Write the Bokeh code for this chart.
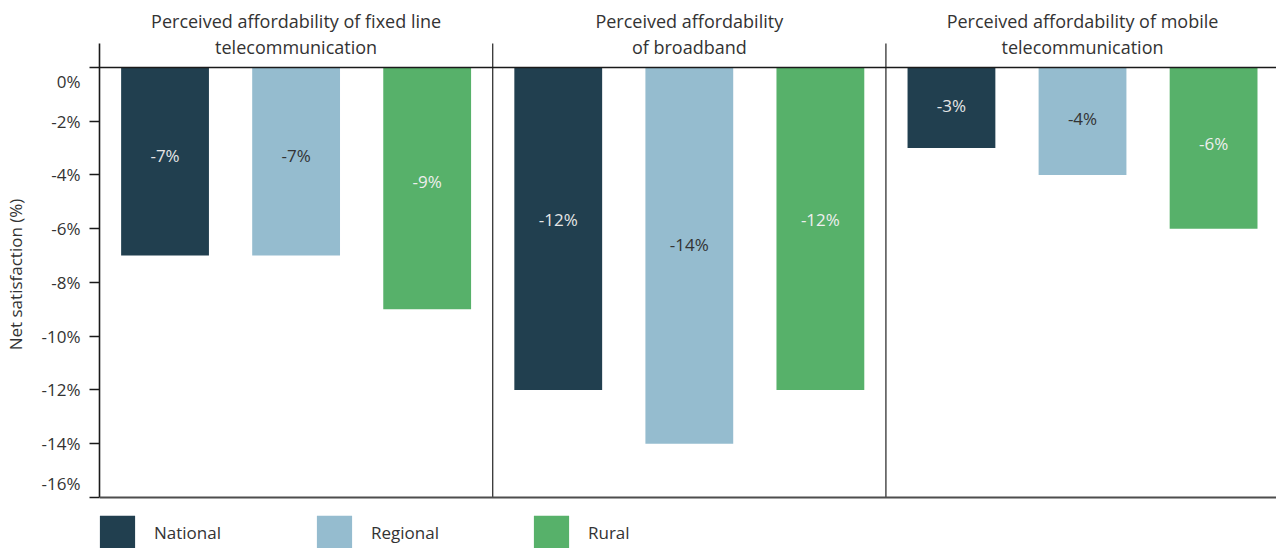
from bokeh.plotting import figure
from bokeh.models import ColumnDataSource, Range1d, FixedTicker, Span, Legend, LegendItem
from bokeh.core.properties import value
from bokeh.embed import file_html
from bokeh.resources import INLINE

# ---- data ----
panels = ["Perceived affordability of fixed line\ntelecommunication",
          "Perceived affordability\nof broadband",
          "Perceived affordability of mobile\ntelecommunication"]
groups = ["National", "Regional", "Rural"]
national = [-7, -12, -3]
regional = [-7, -14, -4]
rural = [-9, -12, -6]
y_ticks = [0, -2, -4, -6, -8, -10, -12, -14, -16]
y_title = "Net satisfaction (%)"

# ---- style ----
FONT = "Open Sans"
colors = ["#213f4f", "#95bccf", "#57b16a"]
label_colors = ["#e6e6e6", "#333333", "#eeeeee"]
TXT = "#333333"
n_groups = len(groups)
panel_w = n_groups
y_min = min(y_ticks)
y_top = 0.893
label_pos = 0.47

p = figure(width=1276, height=548, output_backend="svg", toolbar_location=None,
           x_range=Range1d(0, 8.98), y_range=Range1d(-17.898, 2.493),
           min_border_left=99, min_border_right=0, min_border_top=0, min_border_bottom=0)
p.outline_line_color = None
p.grid.visible = False
p.xaxis.visible = False
p.background_fill_color = "white"

items = []
for j, (g, vals) in enumerate(zip(groups, [national, regional, rural])):
    xs = [i * panel_w + j + 0.5 for i in range(len(vals))]
    src = ColumnDataSource(dict(x=xs, top=[0] * len(vals), bottom=vals,
                                lab=[f"{v}%" for v in vals], ly=[v * label_pos for v in vals]))
    r = p.vbar(x="x", top="top", bottom="bottom", width=0.67, source=src,
               fill_color=colors[j], line_color=None)
    p.text(x="x", y="ly", text="lab", source=src, text_align="center",
           text_baseline="middle", text_color=label_colors[j],
           text_font=value(FONT), text_font_size="17px")
    items.append(LegendItem(label=g, renderers=[r]))

# panel titles
tsrc = ColumnDataSource(dict(x=[i * panel_w + panel_w / 2 for i in range(len(panels))],
                             y=[2.16] * len(panels), t=panels))
p.text(x="x", y="y", text="t", source=tsrc, text_align="center", text_baseline="top",
       text_line_height=1.06, text_color=TXT, text_font=value(FONT), text_font_size="18px")

# panel separators
seps = [k * panel_w for k in range(1, len(panels))]
p.segment(x0=seps, x1=seps, y0=[y_min] * len(seps), y1=[y_top] * len(seps),
          line_color="#333333", line_width=1.3)

p.add_layout(Span(location=0, dimension="width", line_color="#1a1a1a", line_width=1.6))
p.add_layout(Span(location=y_min, dimension="width", line_color="#4d4d4d", line_width=2))

ax = p.yaxis[0]
ax.ticker = FixedTicker(ticks=y_ticks)
overrides = {}
for t in y_ticks:
    s = f"{t}%"
    if t == 0:
        s = "\n" + s
    elif t == y_min:
        s = s + "\n"
    overrides[t] = s
ax.major_label_overrides = overrides
ax.bounds = (y_min, y_top)
ax.axis_line_color = "#1a1a1a"
ax.axis_line_width = 1.6
ax.major_tick_line_color = "#1a1a1a"
ax.major_tick_line_width = 1.4
ax.major_tick_out = 10
ax.major_tick_in = 0
ax.minor_tick_out = 0
ax.minor_tick_in = 0
ax.major_label_standoff = 9
ax.major_label_text_font = FONT
ax.major_label_text_font_size = "17px"
ax.major_label_text_color = TXT
ax.axis_label = y_title
ax.axis_label_text_font = FONT
ax.axis_label_text_font_size = "17px"
ax.axis_label_text_font_style = "normal"
ax.axis_label_text_color = TXT
ax.axis_label_standoff = 12

leg = Legend(items=items, orientation="horizontal", location=(-4, -5),
             glyph_width=44, glyph_height=42, label_standoff=15, label_width=158,
             spacing=0, padding=0, margin=0, border_line_color=None,
             background_fill_alpha=0, label_text_font=FONT,
             label_text_font_size="17px", label_text_color=TXT)
p.add_layout(leg, "center")

open("out.html", "w").write(file_html(p, INLINE))
